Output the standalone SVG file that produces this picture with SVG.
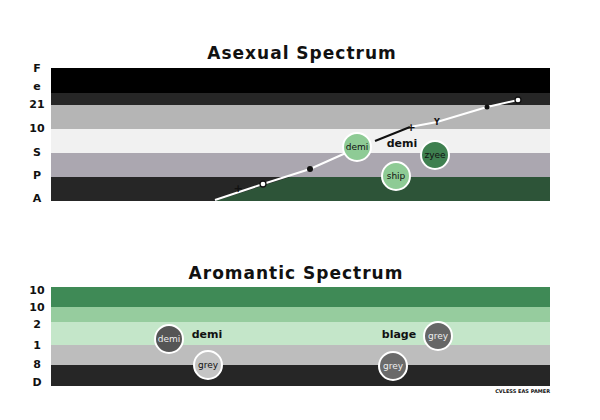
<svg xmlns="http://www.w3.org/2000/svg" width="600" height="420" viewBox="0 0 600 420">
<style>
text{font-family:"DejaVu Sans",sans-serif;font-weight:bold;fill:#111}
.t{font-size:17px;letter-spacing:1px}
.ax{font-size:11px;text-anchor:middle}
.n{font-size:9px;text-anchor:middle;font-weight:normal}
.c{stroke:#fff;stroke-width:2}
.d{fill:#111;stroke:none}
.o{fill:#fff;stroke:#111;stroke-width:1.3}
</style>
<rect width="600" height="420" fill="#fff"/>
<text class="t" x="302" y="59" text-anchor="middle">Asexual  Spectrum</text>
<rect x="51" y="68" width="499" height="25" fill="#000"/>
<rect x="51" y="93" width="499" height="12" fill="#262626"/>
<rect x="51" y="105" width="499" height="24" fill="#b5b5b5"/>
<rect x="51" y="129" width="499" height="24" fill="#f1f1f1"/>
<rect x="51" y="153" width="499" height="24" fill="#aba7b0"/>
<rect x="51" y="177" width="499" height="24" fill="#262626"/>
<polygon points="290,177 550,177 550,201 215,201" fill="#2d5438"/>
<g font-size="11">
<text class="ax" x="37" y="72">F</text><text class="ax" x="37" y="90">e</text><text class="ax" x="37" y="108">21</text><text class="ax" x="37" y="132">10</text><text class="ax" x="37" y="156">S</text><text class="ax" x="37" y="179">P</text><text class="ax" x="37" y="202">A</text>
</g>
<g id="connectors">
<polyline class="c" fill="none" points="215,200 263,184 310,169 357,148"/>
<line x1="375" y1="141" x2="410" y2="127" stroke="#111" stroke-width="2"/>
<polyline class="c" fill="none" points="410,127 437,122 487,107 518,100"/>
<circle class="o" cx="263" cy="184" r="3"/><circle class="d" cx="310" cy="169" r="3"/>
<circle class="d" cx="487" cy="107" r="2.5"/><circle class="o" cx="518" cy="100" r="3"/>
<text x="238" y="192" font-size="11" text-anchor="middle">+</text>
<text x="411" y="131" font-size="11" text-anchor="middle">+</text>
<text x="437" y="125" font-size="8" text-anchor="middle">Y</text>
<polyline class="c" fill="none" points="232,358 259,347 328,322"/>
<polyline class="c" fill="none" points="303,335 337,347 373,361"/>
<circle class="d" cx="232" cy="358" r="3"/><circle class="d" cx="259" cy="347" r="3"/><circle class="d" cx="328" cy="322" r="2.5"/>
<circle class="d" cx="303" cy="335" r="2.5"/><circle class="d" cx="337" cy="347" r="2.5"/><circle class="d" cx="373" cy="361" r="2.5"/>
</g>
<text x="402" y="147" font-size="11" text-anchor="middle">demi</text>
<g id="n-demi"><circle class="c" cx="357" cy="147" r="14" fill="#8ecb95"/><text class="n" x="357" y="150">demi</text></g>
<g id="n-ship"><circle class="c" cx="396" cy="176" r="14" fill="#8ecb95"/><text class="n" x="396" y="179">ship</text></g>
<g id="n-zyee"><circle class="c" cx="435" cy="155" r="14" fill="#3f8050"/><text class="n" x="435" y="158">zyee</text></g>

<text class="t" x="296" y="279" text-anchor="middle">Aromantic  Spectrum</text>
<rect x="51" y="287" width="499" height="20" fill="#3f8a56"/>
<rect x="51" y="307" width="499" height="15" fill="#96cc9e"/>
<rect x="51" y="322" width="499" height="23" fill="#c4e6c9"/>
<rect x="51" y="345" width="499" height="20" fill="#bdbdbd"/>
<rect x="51" y="365" width="499" height="21" fill="#262626"/>
<text class="ax" x="37" y="294">10</text><text class="ax" x="37" y="311">10</text><text class="ax" x="37" y="328">2</text><text class="ax" x="37" y="349">1</text><text class="ax" x="37" y="368">8</text><text class="ax" x="37" y="386">D</text>
<text x="207" y="338" font-size="11" text-anchor="middle">demi</text>
<text x="399" y="338" font-size="11" text-anchor="middle">blage</text>
<g id="n-demi2"><circle class="c" cx="169" cy="339" r="14" fill="#555"/><text class="n" x="169" y="342" style="fill:#eee">demi</text></g>
<g id="n-grey1"><circle class="c" cx="208" cy="365" r="14" fill="#c4c4c4"/><text class="n" x="208" y="368">grey</text></g>
<g id="n-grey2"><circle class="c" cx="393" cy="366" r="14" fill="#6a6a6a"/><text class="n" x="393" y="369" style="fill:#eee">grey</text></g>
<g id="n-grey3"><circle class="c" cx="438" cy="336" r="14" fill="#666"/><text class="n" x="438" y="339" style="fill:#eee">grey</text></g>
<text x="550" y="393" font-size="5" text-anchor="end" font-weight="normal">CVLESS EAS PAMER</text>
</svg>
